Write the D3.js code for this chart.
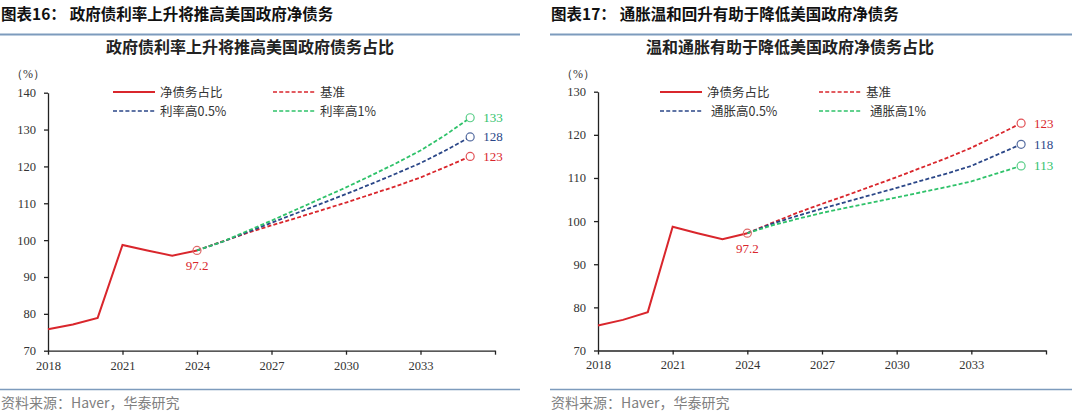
<!DOCTYPE html>
<html>
<head>
<meta charset="utf-8">
<script src="https://cdn.jsdelivr.net/npm/d3@7"></script>
<style>
  body { margin: 0; background: #fff; }
  svg { display: block; }
</style>
</head>
<body>
<div id="container"></div>
<script>
// history 2018-2024 and forecasts 2024-2035
const histYears = [2018, 2019, 2020, 2021, 2022, 2023, 2024];
const histNet = [75.8, 77.1, 78.9, 98.7, 97.2, 95.8, 97.2];

const fcYears = [2024, 2025, 2026, 2027, 2028, 2029, 2030, 2031, 2032, 2033, 2034, 2035];
const baseline = [97.2, 99.6, 101.9, 104.0, 106.0, 108.1, 110.2, 112.4, 114.6, 117.0, 119.8, 122.7];
const rateUp05 = [97.2, 99.5, 102.1, 104.7, 107.3, 109.9, 112.5, 115.2, 118.0, 120.9, 124.3, 128.0];
const rateUp1 = [97.2, 99.5, 102.4, 105.3, 108.3, 111.3, 114.3, 117.5, 120.8, 124.3, 128.5, 133.2];
const inflUp05 = [97.2, 99.4, 101.2, 102.9, 104.5, 106.1, 107.7, 109.4, 111.0, 112.8, 115.3, 117.8];
const inflUp1 = [97.2, 99.0, 100.5, 101.9, 103.1, 104.3, 105.5, 106.7, 107.9, 109.2, 111.0, 112.8];

const xTicks = [2018, 2021, 2024, 2027, 2030, 2033, 2036];
const xTickLabels = ["2018", "2021", "2024", "2027", "2030", "2033", ""];
const leftYTicks = [70, 80, 90, 100, 110, 120, 130, 140];
const rightYTicks = [70, 80, 90, 100, 110, 120, 130];

const RED = "#d9262c", BLUE = "#2b4788", GREEN = "#2fc26a";
const serif = "'Liberation Serif', 'Times New Roman', serif";
const sans = "'Noto Sans CJK SC', 'Noto Sans', sans-serif";

const W = 1080, H = 411;
const svg = d3.select("#container").append("svg").attr("width", W).attr("height", H);

function header(x0, x1, num, title) {
  const t = svg.append("text").attr("x", x0 + 1).attr("y", 20)
    .attr("font-family", sans).attr("font-size", 15.5).attr("font-weight", "bold").attr("fill", "#111");
  t.append("tspan").text("图表" + num + "：");
  t.append("tspan").attr("dx", 4).text(title);
  svg.append("line").attr("x1", x0).attr("x2", x1).attr("y1", 34.5).attr("y2", 34.5)
    .attr("stroke", "#7d9bbd").attr("stroke-width", 2);
  svg.append("line").attr("x1", x0).attr("x2", x1).attr("y1", 389.5).attr("y2", 389.5)
    .attr("stroke", "#7d9bbd").attr("stroke-width", 1.5);
  svg.append("text").attr("x", x0 + 1).attr("y", 408)
    .attr("font-family", sans).attr("font-size", 14).attr("fill", "#808080")
    .text("资料来源：Haver，华泰研究");
}

function panel(cfg) {
  const g = svg.append("g");
  const x = d3.scaleLinear().domain([2018, 2036]).range([cfg.left, cfg.right]);
  const y = d3.scaleLinear().domain(cfg.yDomain).range([cfg.bottom, cfg.top]);

  g.append("text").attr("x", cfg.titleX).attr("y", 53).attr("text-anchor", "middle")
    .attr("font-family", sans).attr("font-size", 16).attr("font-weight", "bold").attr("fill", "#222")
    .text(cfg.title);

  g.append("text").attr("x", cfg.left - 3).attr("y", 78).attr("text-anchor", "end")
    .attr("font-family", serif).attr("font-size", 12).attr("fill", "#333").text("（%）");

  const yAxis = g.append("g").attr("transform", `translate(${cfg.left},0)`)
    .call(d3.axisLeft(y).tickValues(cfg.yTicks).tickSize(4).tickSizeOuter(0).tickPadding(8));
  const xAxis = g.append("g").attr("transform", `translate(0,${cfg.bottom})`)
    .call(d3.axisBottom(x).tickValues(xTicks).tickSize(4).tickSizeOuter(0).tickPadding(6)
      .tickFormat((d, i) => xTickLabels[i]));
  [yAxis, xAxis].forEach(a => {
    a.select(".domain").attr("stroke", "#222").attr("stroke-width", 1.3);
    a.selectAll(".tick line").attr("stroke", "#222").attr("stroke-width", 1.3);
    a.selectAll("text").attr("font-family", serif).attr("font-size", 12.5).attr("fill", "#333");
  });

  const line = d3.line().x(d => x(d[0])).y(d => y(d[1]));

  cfg.series.forEach(s => {
    g.append("path").datum(fcYears.map((yr, i) => [yr, s.values[i]]))
      .attr("d", line).attr("fill", "none").attr("stroke", s.color)
      .attr("stroke-width", 1.8).attr("stroke-dasharray", "4,2.2");
  });
  g.append("path").datum(histYears.map((yr, i) => [yr, histNet[i]]))
    .attr("d", line).attr("fill", "none").attr("stroke", RED).attr("stroke-width", 2);

  // markers and end labels
  g.append("circle").attr("cx", x(2024)).attr("cy", y(97.2)).attr("r", 4)
    .attr("fill", "none").attr("stroke", "#e06a6a").attr("stroke-width", 1.2);
  g.append("text").attr("x", x(2024)).attr("y", y(97.2) + 20).attr("text-anchor", "middle")
    .attr("font-family", serif).attr("font-size", 13).attr("fill", RED).text("97.2");
  cfg.series.forEach(s => {
    const v = s.values[s.values.length - 1];
    g.append("circle").attr("cx", x(2035)).attr("cy", y(v)).attr("r", 4)
      .attr("fill", "#fff").attr("stroke", s.color).attr("stroke-width", 1.2).attr("stroke-opacity", 0.8);
    g.append("text").attr("x", x(2035) + 13).attr("y", y(v) + 4.5)
      .attr("font-family", serif).attr("font-size", 13).attr("fill", s.color).text(s.end);
  });

  // legend
  const rows = [
    { x: cfg.legX[0], y: 92, color: RED, dash: null, label: "净债务占比", tx: cfg.legTx[0] },
    { x: cfg.legX[1], y: 92, color: cfg.series[0].color, dash: "4,2.2", label: cfg.series[0].name, tx: cfg.legTx[1] },
    { x: cfg.legX[0], y: 111, color: cfg.series[1].color, dash: "4,2.2", label: cfg.series[1].name, tx: cfg.legTx[2] },
    { x: cfg.legX[1], y: 111, color: cfg.series[2].color, dash: "4,2.2", label: cfg.series[2].name, tx: cfg.legTx[3] }
  ];
  rows.forEach(r => {
    g.append("line").attr("x1", r.x).attr("x2", r.x + 42).attr("y1", r.y).attr("y2", r.y)
      .attr("stroke", r.color).attr("stroke-width", r.dash ? 1.6 : 2)
      .attr("stroke-dasharray", r.dash);
    g.append("text").attr("x", r.x + 42 + r.tx).attr("y", r.y + 4.5)
      .attr("font-family", sans).attr("font-size", 12.5).attr("fill", "#333").text(r.label);
  });
}

header(0, 520, "16", "政府债利率上升将推高美国政府净债务");
header(550, 1072, "17", "通胀温和回升有助于降低美国政府净债务");

panel({
  title: "政府债利率上升将推高美国政府债务占比", titleX: 250,
  left: 48, right: 495, top: 92.7, bottom: 350.7, yDomain: [70, 140], yTicks: leftYTicks,
  legX: [113, 273], legTx: [5, 5, 5, 5],
  series: [
    { name: "基准", values: baseline, color: RED, end: "123" },
    { name: "利率高0.5%", values: rateUp05, color: BLUE, end: "128" },
    { name: "利率高1%", values: rateUp1, color: GREEN, end: "133" }
  ]
});

panel({
  title: "温和通胀有助于降低美国政府净债务占比", titleX: 790,
  left: 598, right: 1046, top: 91.7, bottom: 350.5, yDomain: [70, 130], yTicks: rightYTicks,
  legX: [660, 819], legTx: [5, 5, 9, 9],
  series: [
    { name: "基准", values: baseline, color: RED, end: "123" },
    { name: "通胀高0.5%", values: inflUp05, color: BLUE, end: "118" },
    { name: "通胀高1%", values: inflUp1, color: GREEN, end: "113" }
  ]
});
</script>
</body>
</html>
